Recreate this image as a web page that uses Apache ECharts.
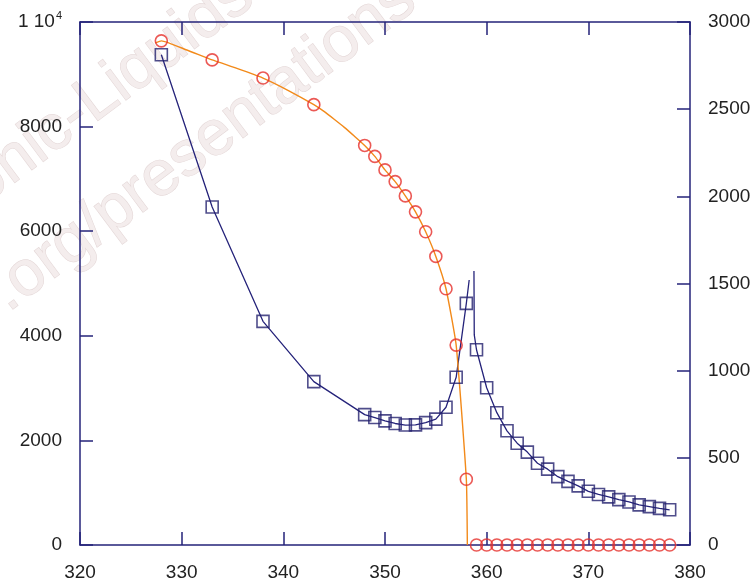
<!DOCTYPE html>
<html>
<head>
<meta charset="utf-8">
<script src="https://cdn.jsdelivr.net/npm/echarts@6/dist/echarts.min.js"></script>
<style>
  html, body { margin: 0; padding: 0; background: #fff; }
  #chart { width: 755px; height: 584px; }
</style>
</head>
<body>
<div id="chart"></div>
<script>
// Temperature points of the measured data
const temps = [328, 333, 338, 343, 348, 349, 350, 351, 352, 353, 354, 355, 356, 357, 358,
  359, 360, 361, 362, 363, 364, 365, 366, 367, 368, 369, 370, 371, 372, 373, 374, 375, 376, 377, 378];

// Left-axis quantity (circles)
const circleVals = [9640, 9275, 8928, 8420, 7640, 7430, 7172, 6948, 6675, 6370, 5990, 5518, 4900, 3822, 1258,
  0, 0, 0, 0, 0, 0, 0, 0, 0, 0, 0, 0, 0, 0, 0, 0, 0, 0, 0, 0];

// Right-axis quantity (squares)
const squareVals = [2812, 1939, 1283, 937, 748, 731, 712, 697, 688, 689, 702, 722, 790, 962, 1386,
  1120, 902, 759, 655, 584, 533, 469, 435, 392, 365, 339, 308, 290, 276, 260, 247, 230, 220, 210, 202];

// Fitted curve through the circles
const circleFitX = [327.4, 328, 330.5, 333, 335.5, 338, 340.5, 343, 344, 345, 346, 347, 348, 349, 350, 351,
  352, 353, 354, 355, 356, 357, 358, 358.1];
const circleFitY = [9600, 9640, 9465, 9275, 9108, 8928, 8690, 8420, 8290, 8140, 7985, 7815, 7640, 7430, 7172, 6948,
  6675, 6370, 5990, 5518, 4900, 3822, 1258, 0];

// Fitted curve through the squares, with its cusp near 358.5
const squareFitX = [328, 333, 338, 343, 348, 349, 350, 351, 352, 353, 354, 355, 356, 357, 358, 358.28, 358.5,
  358.75, 358.78, 359, 360, 361, 362, 363, 364, 365, 366, 367, 368, 369, 370, 371, 372, 373, 374, 375, 376, 377, 378];
const squareFitY = [2812, 1939, 1283, 937, 748, 731, 712, 697, 688, 689, 702, 722, 790, 962, 1386, 1520, '-',
  1572, 1205, 1120, 902, 759, 655, 584, 533, 469, 435, 392, 365, 339, 308, 290, 276, 260, 247, 230, 220, 210, 202];

// Axis ranges
const xRange = [320, 380, 10];
const leftRange = [0, 10000, 2000];
const rightRange = [0, 3000, 500];

const AXIS = '#25237a';
const LABEL = '#222';
const FONT = 'Liberation Sans, Arial, sans-serif';

const zip = (xs, ys) => xs.map((x, i) => [x, ys[i]]);

const chart = echarts.init(document.getElementById('chart'), null, { renderer: 'canvas' });

const axisBase = {
  axisLine: { show: true, onZero: false, lineStyle: { color: AXIS, width: 1.5 } },
  axisTick: { show: true, inside: true, length: 13, lineStyle: { color: AXIS, width: 1.5 } },
  splitLine: { show: false },
  axisLabel: { color: LABEL, fontSize: 19, fontFamily: FONT, formatter: v => String(v) }
};

const markStyle = {
  font: '64px ' + FONT,
  fill: 'rgba(243,236,236,0.95)',
  stroke: 'rgba(224,209,209,0.9)',
  lineWidth: 1
};

chart.setOption({
  animation: false,
  backgroundColor: '#fff',
  graphic: [
    {
      type: 'text', z: -10, left: -62, top: -38, rotation: 0.64, silent: true,
      style: Object.assign({ text: 'Ionic-Liquids' }, markStyle)
    },
    {
      type: 'text', z: -10, left: -22, top: -34, rotation: 0.64, silent: true,
      style: Object.assign({ text: '.org/presentations' }, markStyle)
    }
  ],
  grid: { left: 80, right: 65, top: 22, bottom: 39, containLabel: false },
  xAxis: [
    Object.assign({}, axisBase, {
      type: 'value', position: 'bottom', min: xRange[0], max: xRange[1], interval: xRange[2],
      axisLabel: Object.assign({}, axisBase.axisLabel, { margin: 18 })
    }),
    Object.assign({}, axisBase, {
      type: 'value', position: 'top', min: xRange[0], max: xRange[1], interval: xRange[2],
      axisLabel: { show: false }
    })
  ],
  yAxis: [
    Object.assign({}, axisBase, {
      type: 'value', position: 'left', min: leftRange[0], max: leftRange[1], interval: leftRange[2],
      axisLabel: Object.assign({}, axisBase.axisLabel, {
        margin: 18,
        formatter: v => v === 10000 ? '{a|1 10}{s|4}' : String(v),
        rich: {
          a: { fontSize: 19, fontFamily: FONT, color: LABEL },
          s: { fontSize: 11, fontFamily: FONT, color: LABEL, padding: [0, 0, 12, 1] }
        }
      })
    }),
    Object.assign({}, axisBase, {
      type: 'value', position: 'right', min: rightRange[0], max: rightRange[1], interval: rightRange[2],
      axisLabel: Object.assign({}, axisBase.axisLabel, { margin: 18 })
    })
  ],
  series: [
    {
      type: 'line', xAxisIndex: 0, yAxisIndex: 1, data: zip(squareFitX, squareFitY),
      showSymbol: false, connectNulls: false, lineStyle: { color: AXIS, width: 1.3 }, z: 3
    },
    {
      type: 'line', xAxisIndex: 0, yAxisIndex: 0, data: zip(circleFitX, circleFitY),
      showSymbol: false, smooth: 0.15, lineStyle: { color: '#f28a1a', width: 1.4 }, z: 3
    },
    {
      type: 'scatter', xAxisIndex: 0, yAxisIndex: 1, data: zip(temps, squareVals),
      symbol: 'rect', symbolSize: 12,
      itemStyle: { color: 'rgba(0,0,0,0)', borderColor: '#23206e', borderWidth: 1.6 }, z: 4
    },
    {
      type: 'scatter', xAxisIndex: 0, yAxisIndex: 0, data: zip(temps, circleVals),
      symbol: 'circle', symbolSize: 12,
      itemStyle: { color: 'rgba(0,0,0,0)', borderColor: '#e6302a', borderWidth: 1.6 }, z: 5
    }
  ]
});
</script>
</body>
</html>
